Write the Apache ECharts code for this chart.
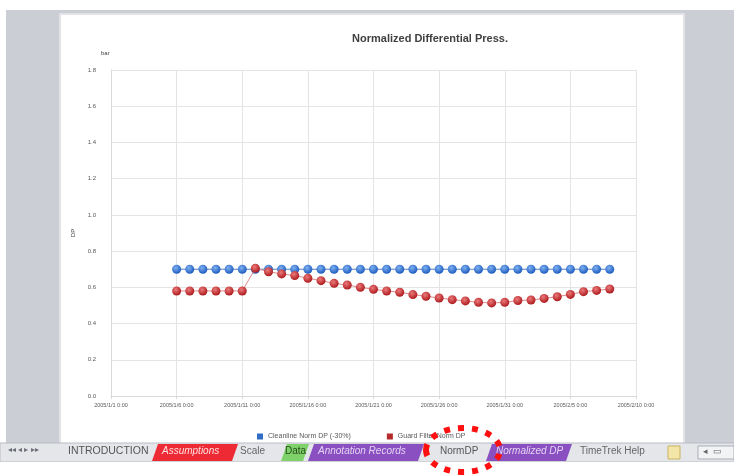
<!DOCTYPE html>
<html>
<head>
<meta charset="utf-8">
<script src="https://cdn.jsdelivr.net/npm/echarts@6/dist/echarts.min.js"></script>
<style>html,body{margin:0;padding:0;background:#fff}#c{width:734px;height:475px}</style>
</head>
<body>
<div id="c"></div>
<script>
// ---- data ----
var xTickLabels = ["2005/1/1 0:00","2005/1/6 0:00","2005/1/11 0:00","2005/1/16 0:00","2005/1/21 0:00","2005/1/26 0:00","2005/1/31 0:00","2005/2/5 0:00","2005/2/10 0:00"];
var yTicks = [0.0,0.2,0.4,0.6,0.8,1.0,1.2,1.4,1.6,1.8];
// day offsets from 2005/1/1
var dayOffsets = [5,6,7,8,9,10,11,12,13,14,15,16,17,18,19,20,21,22,23,24,25,26,27,28,29,30,31,32,33,34,35,36,37,38];
var cleanlineNormDP = [0.70,0.70,0.70,0.70,0.70,0.70,0.70,0.70,0.70,0.70,0.70,0.70,0.70,0.70,0.70,0.70,0.70,0.70,0.70,0.70,0.70,0.70,0.70,0.70,0.70,0.70,0.70,0.70,0.70,0.70,0.70,0.70,0.70,0.70];
var guardNormDP = [0.58,0.58,0.58,0.58,0.58,0.58,0.705,0.686,0.674,0.665,0.650,0.637,0.622,0.613,0.600,0.589,0.580,0.573,0.560,0.551,0.541,0.532,0.525,0.517,0.514,0.517,0.527,0.530,0.539,0.548,0.561,0.576,0.583,0.591];
var seriesNames = ["Cleanline Norm DP (-30%)","Guard Filter Norm DP"];
var tabNames = ["INTRODUCTION","Assumptions","Scale","Data","Annotation Records","NormDP","Normalized DP","TimeTrek Help"];

function pairs(xs, ys){ return xs.map(function(x,i){ return [x, ys[i]]; }); }
function ball(c1, c2){
  return {type:'radial', x:0.4, y:0.35, r:0.65, colorStops:[{offset:0,color:c1},{offset:1,color:c2}]};
}

var chart = echarts.init(document.getElementById('c'), null, {renderer:'canvas'});
var font = 'Liberation Sans, Arial, sans-serif';

var graphics = [
  {type:'rect', z:-20, shape:{x:0,y:0,width:734,height:475}, style:{fill:'#cbced4'}},
  {type:'rect', z:-19, shape:{x:0,y:0,width:734,height:10}, style:{fill:'#ffffff'}},
  {type:'rect', z:-19, shape:{x:0,y:0,width:6,height:475}, style:{fill:'#ffffff'}},
  {type:'rect', z:-18, shape:{x:60,y:14,width:624,height:430}, style:{fill:'#ffffff', stroke:'#e2e3e6', lineWidth:2}},
  // tab bar
  {type:'rect', z:-17, shape:{x:0,y:443,width:734,height:19}, style:{fill:'#e4e6ea', stroke:'#b9bcc3', lineWidth:1}},
  {type:'rect', z:-17, shape:{x:0,y:462,width:734,height:13}, style:{fill:'#ffffff'}},
  {type:'text', z:-16, left:8, top:446, style:{text:'◂◂ ◂ ▸ ▸▸', fill:'#6b6f78', font:'8px '+font}},
  {type:'text', z:-16, left:68, top:446, style:{text:tabNames[0], fill:'#555', font:'10.5px '+font}},
  {type:'polygon', z:-16, shape:{points:[[158,444],[238,444],[232,461],[152,461]]}, style:{fill:'#ee2a35'}},
  {type:'text', z:-15, left:162, top:446, style:{text:tabNames[1], fill:'#ffe0e0', font:'italic 10px '+font}},
  {type:'text', z:-16, left:240, top:446, style:{text:tabNames[2], fill:'#666', font:'10px '+font}},
  {type:'polygon', z:-16, shape:{points:[[287,444],[309,444],[303,461],[281,461]]}, style:{fill:'#7fd16a'}},
  {type:'text', z:-15, left:285, top:446, style:{text:tabNames[3], fill:'#264d1a', font:'10px '+font}},
  {type:'polygon', z:-16, shape:{points:[[314,444],[424,444],[418,461],[308,461]]}, style:{fill:'#8a4fc0'}},
  {type:'text', z:-15, left:318, top:446, style:{text:tabNames[4], fill:'#e3d3f3', font:'italic 10px '+font}},
  {type:'text', z:-16, left:440, top:446, style:{text:tabNames[5], fill:'#555', font:'10px '+font}},
  {type:'polygon', z:-16, shape:{points:[[492,444],[572,444],[566,461],[486,461]]}, style:{fill:'#8a4fc0'}},
  {type:'text', z:-15, left:496, top:446, style:{text:tabNames[6], fill:'#e3d3f3', font:'italic 10px '+font}},
  {type:'text', z:-16, left:580, top:446, style:{text:tabNames[7], fill:'#666', font:'10px '+font}},
  {type:'rect', z:-16, shape:{x:668,y:446,width:12,height:13}, style:{fill:'#f3e6a8', stroke:'#c9b35e'}},
  {type:'rect', z:-16, shape:{x:698,y:446,width:36,height:13}, style:{fill:'#f2f3f5', stroke:'#a9adb5'}},
  {type:'text', z:-15, left:703, top:447, style:{text:'◂  ▭', fill:'#666', font:'9px '+font}},
  // red dotted circle annotation
  {type:'ellipse', z:50, shape:{cx:463, cy:450, rx:37, ry:22}, style:{fill:'none', stroke:'#ff1010', lineWidth:6, lineDash:[6,8]}},
  // unit label
  {type:'text', z:5, left:101, top:50, style:{text:'bar', fill:'#404040', font:'6px '+font}}
];

var option = {
  backgroundColor:'#ffffff',
  animation:false,
  title:{text:'Normalized Differential Press.', left:425, top:28, textAlign:'center',
    textStyle:{fontSize:11, fontWeight:'bold', color:'#404040', fontFamily:font}},
  grid:{left:111, right:98, top:70, bottom:79, containLabel:false},
  legend:{left:252, top:428, itemWidth:6, itemHeight:6, itemGap:36, icon:'rect',
    textStyle:{fontSize:7, color:'#595959', fontFamily:font}},
  xAxis:{type:'value', min:0, max:40, interval:5,
    axisLine:{show:true, lineStyle:{color:'#d9d9d9'}},
    axisTick:{show:true, length:3, lineStyle:{color:'#d9d9d9'}},
    splitLine:{show:true, lineStyle:{color:'#e4e4e4'}},
    axisLabel:{fontSize:5.5, color:'#595959', fontFamily:font, margin:6,
      formatter:function(v){ return xTickLabels[Math.round(v/5)] || ''; }}},
  yAxis:{type:'value', min:yTicks[0], max:yTicks[yTicks.length-1], interval:0.2,
    name:'DP', nameLocation:'middle', nameGap:32, nameRotate:90,
    nameTextStyle:{fontSize:6, color:'#404040', fontFamily:font},
    axisLine:{show:true, lineStyle:{color:'#d9d9d9'}},
    axisTick:{show:false},
    splitLine:{show:true, lineStyle:{color:'#e4e4e4'}},
    axisLabel:{fontSize:6, color:'#595959', fontFamily:font, margin:15,
      formatter:function(v){ return v.toFixed(1); }}},
  series:[
    {name:seriesNames[0], type:'line', data:pairs(dayOffsets, cleanlineNormDP),
      symbol:'circle', symbolSize:9, z:3,
      lineStyle:{width:1, color:'#4f81bd'},
      itemStyle:{color:ball('#7fb0f0','#1d5cc0'), borderWidth:0},
      emphasis:{disabled:true}},
    {name:seriesNames[1], type:'line', data:pairs(dayOffsets, guardNormDP),
      symbol:'circle', symbolSize:9, z:4,
      lineStyle:{width:1, color:'#e08a8a'},
      itemStyle:{color:ball('#ec7a7a','#ad1a1e'), borderWidth:0},
      emphasis:{disabled:true}}
  ],
  graphic:graphics
};
option.legend.data = [
  {name:seriesNames[0], itemStyle:{color:'#2f6cc4'}},
  {name:seriesNames[1], itemStyle:{color:'#b52a2a'}}
];
chart.setOption(option);
</script>
</body>
</html>
